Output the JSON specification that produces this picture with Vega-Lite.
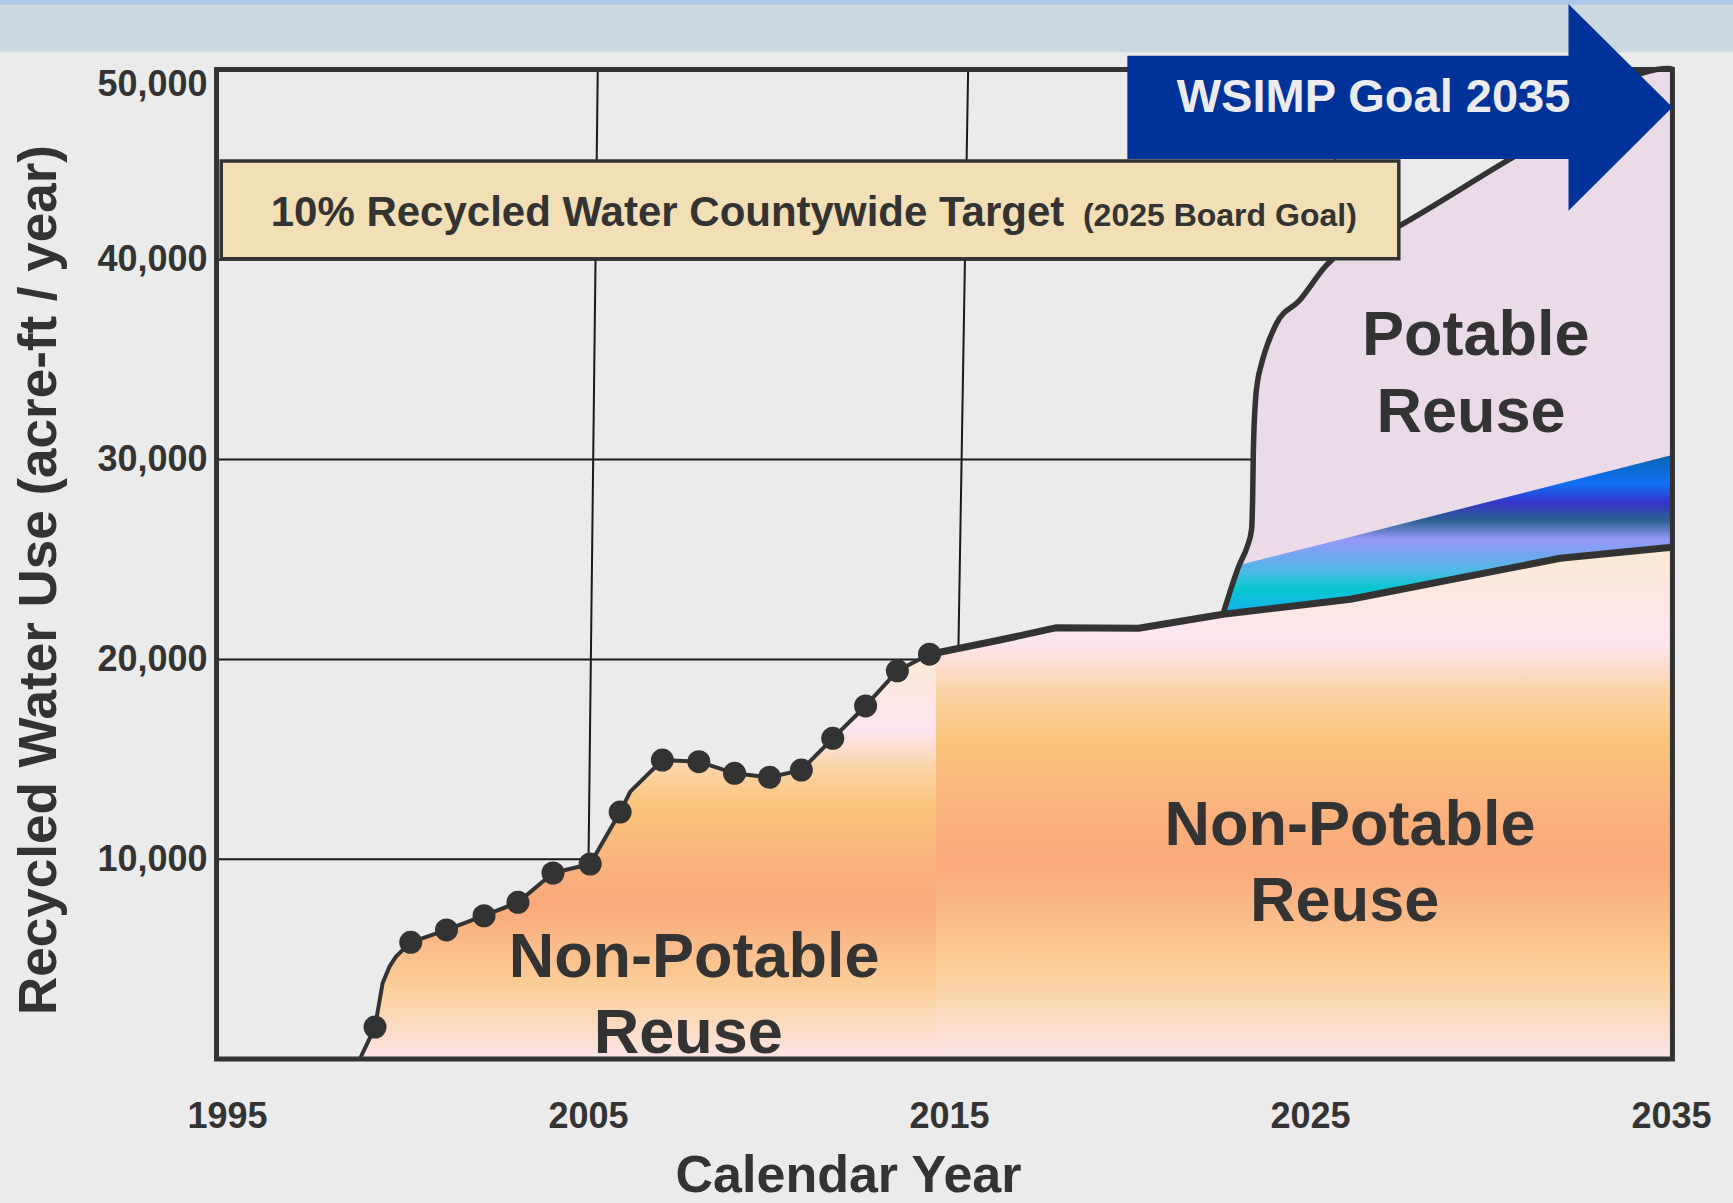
{
  "$schema": "https://vega.github.io/schema/vega-lite/v6.json",
  "width": 1444,
  "height": 999,
  "autosize": {"type": "none"},
  "padding": {"left": 227, "top": 60, "right": 62, "bottom": 144},
  "background": "#ebebeb",
  "config": {"view": {"stroke": null}, "font": "Liberation Sans"},
  "datasets": {
    "band": [{"x": 1988, "x2": 2040, "y": 50385, "y2": 52768}],
    "bandLine": [{"x": 1988, "x2": 2040, "y": 52768, "y2": 54500}],
    "grid": [
      {"x": 1994.71, "x2": 2035.04, "y": 10000, "y2": 10000},
      {"x": 1994.71, "x2": 2035.04, "y": 20000, "y2": 20000},
      {"x": 1994.71, "x2": 2035.04, "y": 30000, "y2": 30000},
      {"x": 1994.71, "x2": 2035.04, "y": 40000, "y2": 40000},
      {"x": 2005.27, "x2": 2004.95, "y": 49530, "y2": 0},
      {"x": 2015.53, "x2": 2015.07, "y": 49530, "y2": 0},
      {"x": 2025.72, "x2": 2025.39, "y": 49530, "y2": 0}
    ],
    "potable": [
      {"x": 2022.59, "y": 22260},
      {"x": 2023.04, "y": 24720},
      {"x": 2023.26, "y": 25640},
      {"x": 2023.38, "y": 26480},
      {"x": 2023.41, "y": 27980},
      {"x": 2023.43, "y": 30320},
      {"x": 2023.49, "y": 32980},
      {"x": 2023.54, "y": 33820},
      {"x": 2023.66, "y": 34820},
      {"x": 2023.77, "y": 35490},
      {"x": 2024.05, "y": 36740},
      {"x": 2024.72, "y": 37990},
      {"x": 2025.45, "y": 39720},
      {"x": 2027.44, "y": 41660},
      {"x": 2030.5, "y": 45000},
      {"x": 2034.94, "y": 49580},
      {"x": 2035.04, "y": 49530}
    ],
    "wedge": [
      {"x": 2022.59, "y": 22260, "y2": 22260},
      {"x": 2023.04, "y": 24720, "y2": 22360},
      {"x": 2026.12, "y": 26130, "y2": 23010},
      {"x": 2031.93, "y": 28800, "y2": 25060},
      {"x": 2034.95, "y": 30190, "y2": 25600},
      {"x": 2035.03, "y": 30230, "y2": 25700}
    ],
    "npPre": [
      {"x": 1998.68, "y": 0},
      {"x": 1999.10, "y": 1600},
      {"x": 1999.31, "y": 3790},
      {"x": 1999.50, "y": 4620},
      {"x": 1999.68, "y": 5120},
      {"x": 1999.87, "y": 5460},
      {"x": 2000.09, "y": 5840},
      {"x": 2001.08, "y": 6460},
      {"x": 2002.12, "y": 7170},
      {"x": 2003.06, "y": 7840},
      {"x": 2004.03, "y": 9310},
      {"x": 2005.06, "y": 9760},
      {"x": 2005.89, "y": 12360},
      {"x": 2006.17, "y": 13380},
      {"x": 2007.06, "y": 14960},
      {"x": 2008.07, "y": 14880},
      {"x": 2009.06, "y": 14300},
      {"x": 2010.03, "y": 14100},
      {"x": 2010.91, "y": 14460},
      {"x": 2011.78, "y": 16050},
      {"x": 2012.69, "y": 17670},
      {"x": 2013.57, "y": 19430},
      {"x": 2014.46, "y": 20260},
      {"x": 2014.64, "y": 20320}
    ],
    "npPost": [
      {"x": 2014.64, "y": 20320},
      {"x": 2016.41, "y": 20970},
      {"x": 2017.95, "y": 21580},
      {"x": 2020.25, "y": 21560},
      {"x": 2022.59, "y": 22260},
      {"x": 2026.12, "y": 23010},
      {"x": 2031.93, "y": 25060},
      {"x": 2034.95, "y": 25600},
      {"x": 2035.04, "y": 25700}
    ],
    "linePre": [
      {"x": 1994.71, "y": 0},
      {"x": 1998.68, "y": 0},
      {"x": 1999.10, "y": 1600},
      {"x": 1999.31, "y": 3790},
      {"x": 1999.50, "y": 4620},
      {"x": 1999.68, "y": 5120},
      {"x": 1999.87, "y": 5460},
      {"x": 2000.09, "y": 5840},
      {"x": 2001.08, "y": 6460},
      {"x": 2002.12, "y": 7170},
      {"x": 2003.06, "y": 7840},
      {"x": 2004.03, "y": 9310},
      {"x": 2005.06, "y": 9760},
      {"x": 2005.89, "y": 12360},
      {"x": 2006.17, "y": 13380},
      {"x": 2007.06, "y": 14960},
      {"x": 2008.07, "y": 14880},
      {"x": 2009.06, "y": 14300},
      {"x": 2010.03, "y": 14100},
      {"x": 2010.91, "y": 14460},
      {"x": 2011.78, "y": 16050},
      {"x": 2012.69, "y": 17670},
      {"x": 2013.57, "y": 19430},
      {"x": 2014.46, "y": 20260}
    ],
    "linePost": [
      {"x": 2014.46, "y": 20260},
      {"x": 2014.64, "y": 20320},
      {"x": 2016.41, "y": 20970},
      {"x": 2017.95, "y": 21580},
      {"x": 2020.25, "y": 21560},
      {"x": 2022.59, "y": 22260},
      {"x": 2026.12, "y": 23010},
      {"x": 2031.93, "y": 25060},
      {"x": 2034.95, "y": 25600},
      {"x": 2035.06, "y": 25700}
    ],
    "dots": [
      {"x": 1999.10, "y": 1600},
      {"x": 2000.09, "y": 5840},
      {"x": 2001.08, "y": 6460},
      {"x": 2002.12, "y": 7170},
      {"x": 2003.06, "y": 7840},
      {"x": 2004.03, "y": 9310},
      {"x": 2005.06, "y": 9760},
      {"x": 2005.89, "y": 12360},
      {"x": 2007.06, "y": 14960},
      {"x": 2008.07, "y": 14880},
      {"x": 2009.06, "y": 14300},
      {"x": 2010.03, "y": 14100},
      {"x": 2010.91, "y": 14460},
      {"x": 2011.78, "y": 16050},
      {"x": 2012.69, "y": 17670},
      {"x": 2013.57, "y": 19430},
      {"x": 2014.46, "y": 20260}
    ],
    "frame": [{"x": 1994.71, "x2": 2035.04, "y": 0, "y2": 49530}],
    "banner": [{"x": 1994.84, "x2": 2027.46, "y": 40055, "y2": 44945}],
    "bannerText": [{"x": 1996.21, "y": 41692, "text": "10% Recycled Water Countywide Target"}],
    "bannerSub": [{"x": 2018.71, "y": 41692, "text": "(2025 Board Goal)"}],
    "arrowBody": [{"x": 2019.94, "x2": 2032.2, "y": 45045, "y2": 50215}],
    "arrowHead": [
      {"x": 2032.16, "y": 52803, "y2": 42457},
      {"x": 2035.04, "y": 47633, "y2": 47633}
    ],
    "arrowText": [{"x": 2026.76, "y": 47382, "text": "WSIMP Goal 2035"}],
    "regionLabels": [
      {"x": 2029.59, "y": 35235, "text": "Potable"},
      {"x": 2029.46, "y": 31397, "text": "Reuse"},
      {"x": 2026.11, "y": 10711, "text": "Non-Potable"},
      {"x": 2025.96, "y": 6922, "text": "Reuse"},
      {"x": 2007.94, "y": 4119, "text": "Non-Potable"},
      {"x": 2007.78, "y": 285, "text": "Reuse"}
    ]
  },
  "encoding": {
    "x": {"field": "x", "type": "quantitative",
      "scale": {"domain": [1995, 2035], "nice": false, "zero": false},
      "axis": {"values": [1995, 2005, 2015, 2025, 2035], "format": "d", "grid": false, "domain": false, "ticks": false, "tickSize": 0,
        "labelPadding": 40, "labelFontSize": 36, "labelFont": "Liberation Sans", "labelFontWeight": "bold", "labelColor": "#333333",
        "labelFlush": false, "labelOverlap": false, "labelBound": false,
        "title": "Calendar Year", "titleFont": "Liberation Sans", "titleFontSize": 52, "titleFontWeight": "bold", "titleColor": "#333333",
        "titleX": 621, "titleY": 132, "titleAlign": "center", "titleBaseline": "alphabetic", "titleAngle": 0}},
    "y": {"field": "y", "type": "quantitative", "stack": null,
      "scale": {"domain": [0, 50000], "nice": false, "zero": false},
      "axis": {"values": [10000, 20000, 30000, 40000, 50000], "format": ",d", "grid": false, "domain": false, "ticks": false, "tickSize": 0,
        "labelPadding": 20, "labelFontSize": 36, "labelFont": "Liberation Sans", "labelFontWeight": "bold", "labelColor": "#333333",
        "labelFlush": false, "labelOverlap": false, "labelBound": false,
        "labelOffset": {"condition": {"test": "datum.value === 50000", "value": 24}, "value": 0},
        "title": "Recycled Water Use (acre-ft / year)", "titleFont": "Liberation Sans", "titleFontSize": 53, "titleFontWeight": "bold", "titleColor": "#333333",
        "titleX": -172, "titleY": 519.5, "titleAlign": "center", "titleBaseline": "alphabetic", "titleAngle": 270}}
  },
  "layer": [
    {
      "data": {"name": "band"},
      "mark": {"type": "rect", "fill": "#cdd9e1"},
      "encoding": {"x2": {"field": "x2"}, "y2": {"field": "y2"}}
    },
    {
      "data": {"name": "bandLine"},
      "mark": {"type": "rect", "fill": "#adc8e8"},
      "encoding": {"x2": {"field": "x2"}, "y2": {"field": "y2"}}
    },
    {
      "data": {"name": "grid"},
      "mark": {"type": "rule", "stroke": "#1a1a1a", "strokeWidth": 2},
      "encoding": {"x2": {"field": "x2"}, "y2": {"field": "y2"}}
    },
    {
      "data": {"name": "potable"},
      "mark": {"type": "area", "fill": "#ebdbe9", "stroke": null, "interpolate": "monotone"},
      "encoding": {}
    },
    {
      "data": {"name": "wedge"},
      "mark": {"type": "area", "stroke": null, "fill": {"gradient": "linear", "x1": 0, "y1": 0, "x2": 0, "y2": 1, "stops": [
        {"offset": 0, "color": "#0866b0"},
        {"offset": 0.18, "color": "#1070f5"},
        {"offset": 0.3, "color": "#3535c8"},
        {"offset": 0.41, "color": "#2a6090"},
        {"offset": 0.53, "color": "#9498f8"},
        {"offset": 0.62, "color": "#78a4f0"},
        {"offset": 0.74, "color": "#48bce4"},
        {"offset": 0.84, "color": "#08c8d0"},
        {"offset": 1, "color": "#18aef0"}
      ]}},
      "encoding": {"y2": {"field": "y2"}}
    },
    {
      "data": {"name": "npPre"},
      "mark": {"type": "area", "stroke": null, "fill": {"gradient": "linear", "x1": 0, "y1": 0, "x2": 0, "y2": 1, "stops": [
        {"offset": 0, "color": "#fbead3"},
        {"offset": 0.19, "color": "#fde5ef"},
        {"offset": 0.28, "color": "#fbd5aa"},
        {"offset": 0.38, "color": "#f9c47a"},
        {"offset": 0.5, "color": "#fab47e"},
        {"offset": 0.62, "color": "#f9a87b"},
        {"offset": 0.83, "color": "#fbd09a"},
        {"offset": 0.92, "color": "#fbdcc2"},
        {"offset": 1, "color": "#fde4e8"}
      ]}},
      "encoding": {}
    },
    {
      "data": {"name": "npPost"},
      "mark": {"type": "area", "stroke": null, "fill": {"gradient": "linear", "x1": 0, "y1": 0, "x2": 0, "y2": 1, "stops": [
        {"offset": 0, "color": "#fbead3"},
        {"offset": 0.19, "color": "#fde5ef"},
        {"offset": 0.28, "color": "#fbd5aa"},
        {"offset": 0.38, "color": "#f9c47a"},
        {"offset": 0.5, "color": "#fab47e"},
        {"offset": 0.62, "color": "#f9a87b"},
        {"offset": 0.83, "color": "#fbd09a"},
        {"offset": 0.92, "color": "#fbdcc2"},
        {"offset": 1, "color": "#fde4e8"}
      ]}},
      "encoding": {}
    },
    {
      "data": {"name": "potable"},
      "mark": {"type": "line", "stroke": "#333333", "strokeWidth": 5.5, "strokeJoin": "round", "interpolate": "monotone"},
      "encoding": {}
    },
    {
      "data": {"name": "linePre"},
      "mark": {"type": "line", "stroke": "#333333", "strokeWidth": 4, "strokeJoin": "round"},
      "encoding": {}
    },
    {
      "data": {"name": "linePost"},
      "mark": {"type": "line", "stroke": "#333333", "strokeWidth": 7, "strokeJoin": "round"},
      "encoding": {}
    },
    {
      "data": {"name": "dots"},
      "mark": {"type": "circle", "size": 530, "fill": "#333333", "opacity": 1},
      "encoding": {}
    },
    {
      "data": {"name": "frame"},
      "mark": {"type": "rect", "filled": false, "stroke": "#333333", "strokeWidth": 5},
      "encoding": {"x2": {"field": "x2"}, "y2": {"field": "y2"}}
    },
    {
      "data": {"name": "banner"},
      "mark": {"type": "rect", "fill": "#f2dfb5", "stroke": "#333333", "strokeWidth": 3.5},
      "encoding": {"x2": {"field": "x2"}, "y2": {"field": "y2"}}
    },
    {
      "data": {"name": "bannerText"},
      "mark": {"type": "text", "font": "Liberation Sans", "fontWeight": "bold", "fontSize": 42, "fill": "#333333", "align": "left", "baseline": "alphabetic"},
      "encoding": {"text": {"field": "text"}}
    },
    {
      "data": {"name": "bannerSub"},
      "mark": {"type": "text", "font": "Liberation Sans", "fontWeight": "bold", "fontSize": 32, "fill": "#333333", "align": "left", "baseline": "alphabetic"},
      "encoding": {"text": {"field": "text"}}
    },
    {
      "data": {"name": "arrowBody"},
      "mark": {"type": "rect", "fill": "#003399"},
      "encoding": {"x2": {"field": "x2"}, "y2": {"field": "y2"}}
    },
    {
      "data": {"name": "arrowHead"},
      "mark": {"type": "area", "fill": "#003399", "stroke": null},
      "encoding": {"y2": {"field": "y2"}}
    },
    {
      "data": {"name": "arrowText"},
      "mark": {"type": "text", "font": "Liberation Sans", "fontWeight": "bold", "fontSize": 47, "fill": "#ececf0", "align": "center", "baseline": "alphabetic"},
      "encoding": {"text": {"field": "text"}}
    },
    {
      "data": {"name": "regionLabels"},
      "mark": {"type": "text", "font": "Liberation Sans", "fontWeight": "bold", "fontSize": 63, "fill": "#333333", "align": "center", "baseline": "alphabetic"},
      "encoding": {"text": {"field": "text"}}
    }
  ]
}
